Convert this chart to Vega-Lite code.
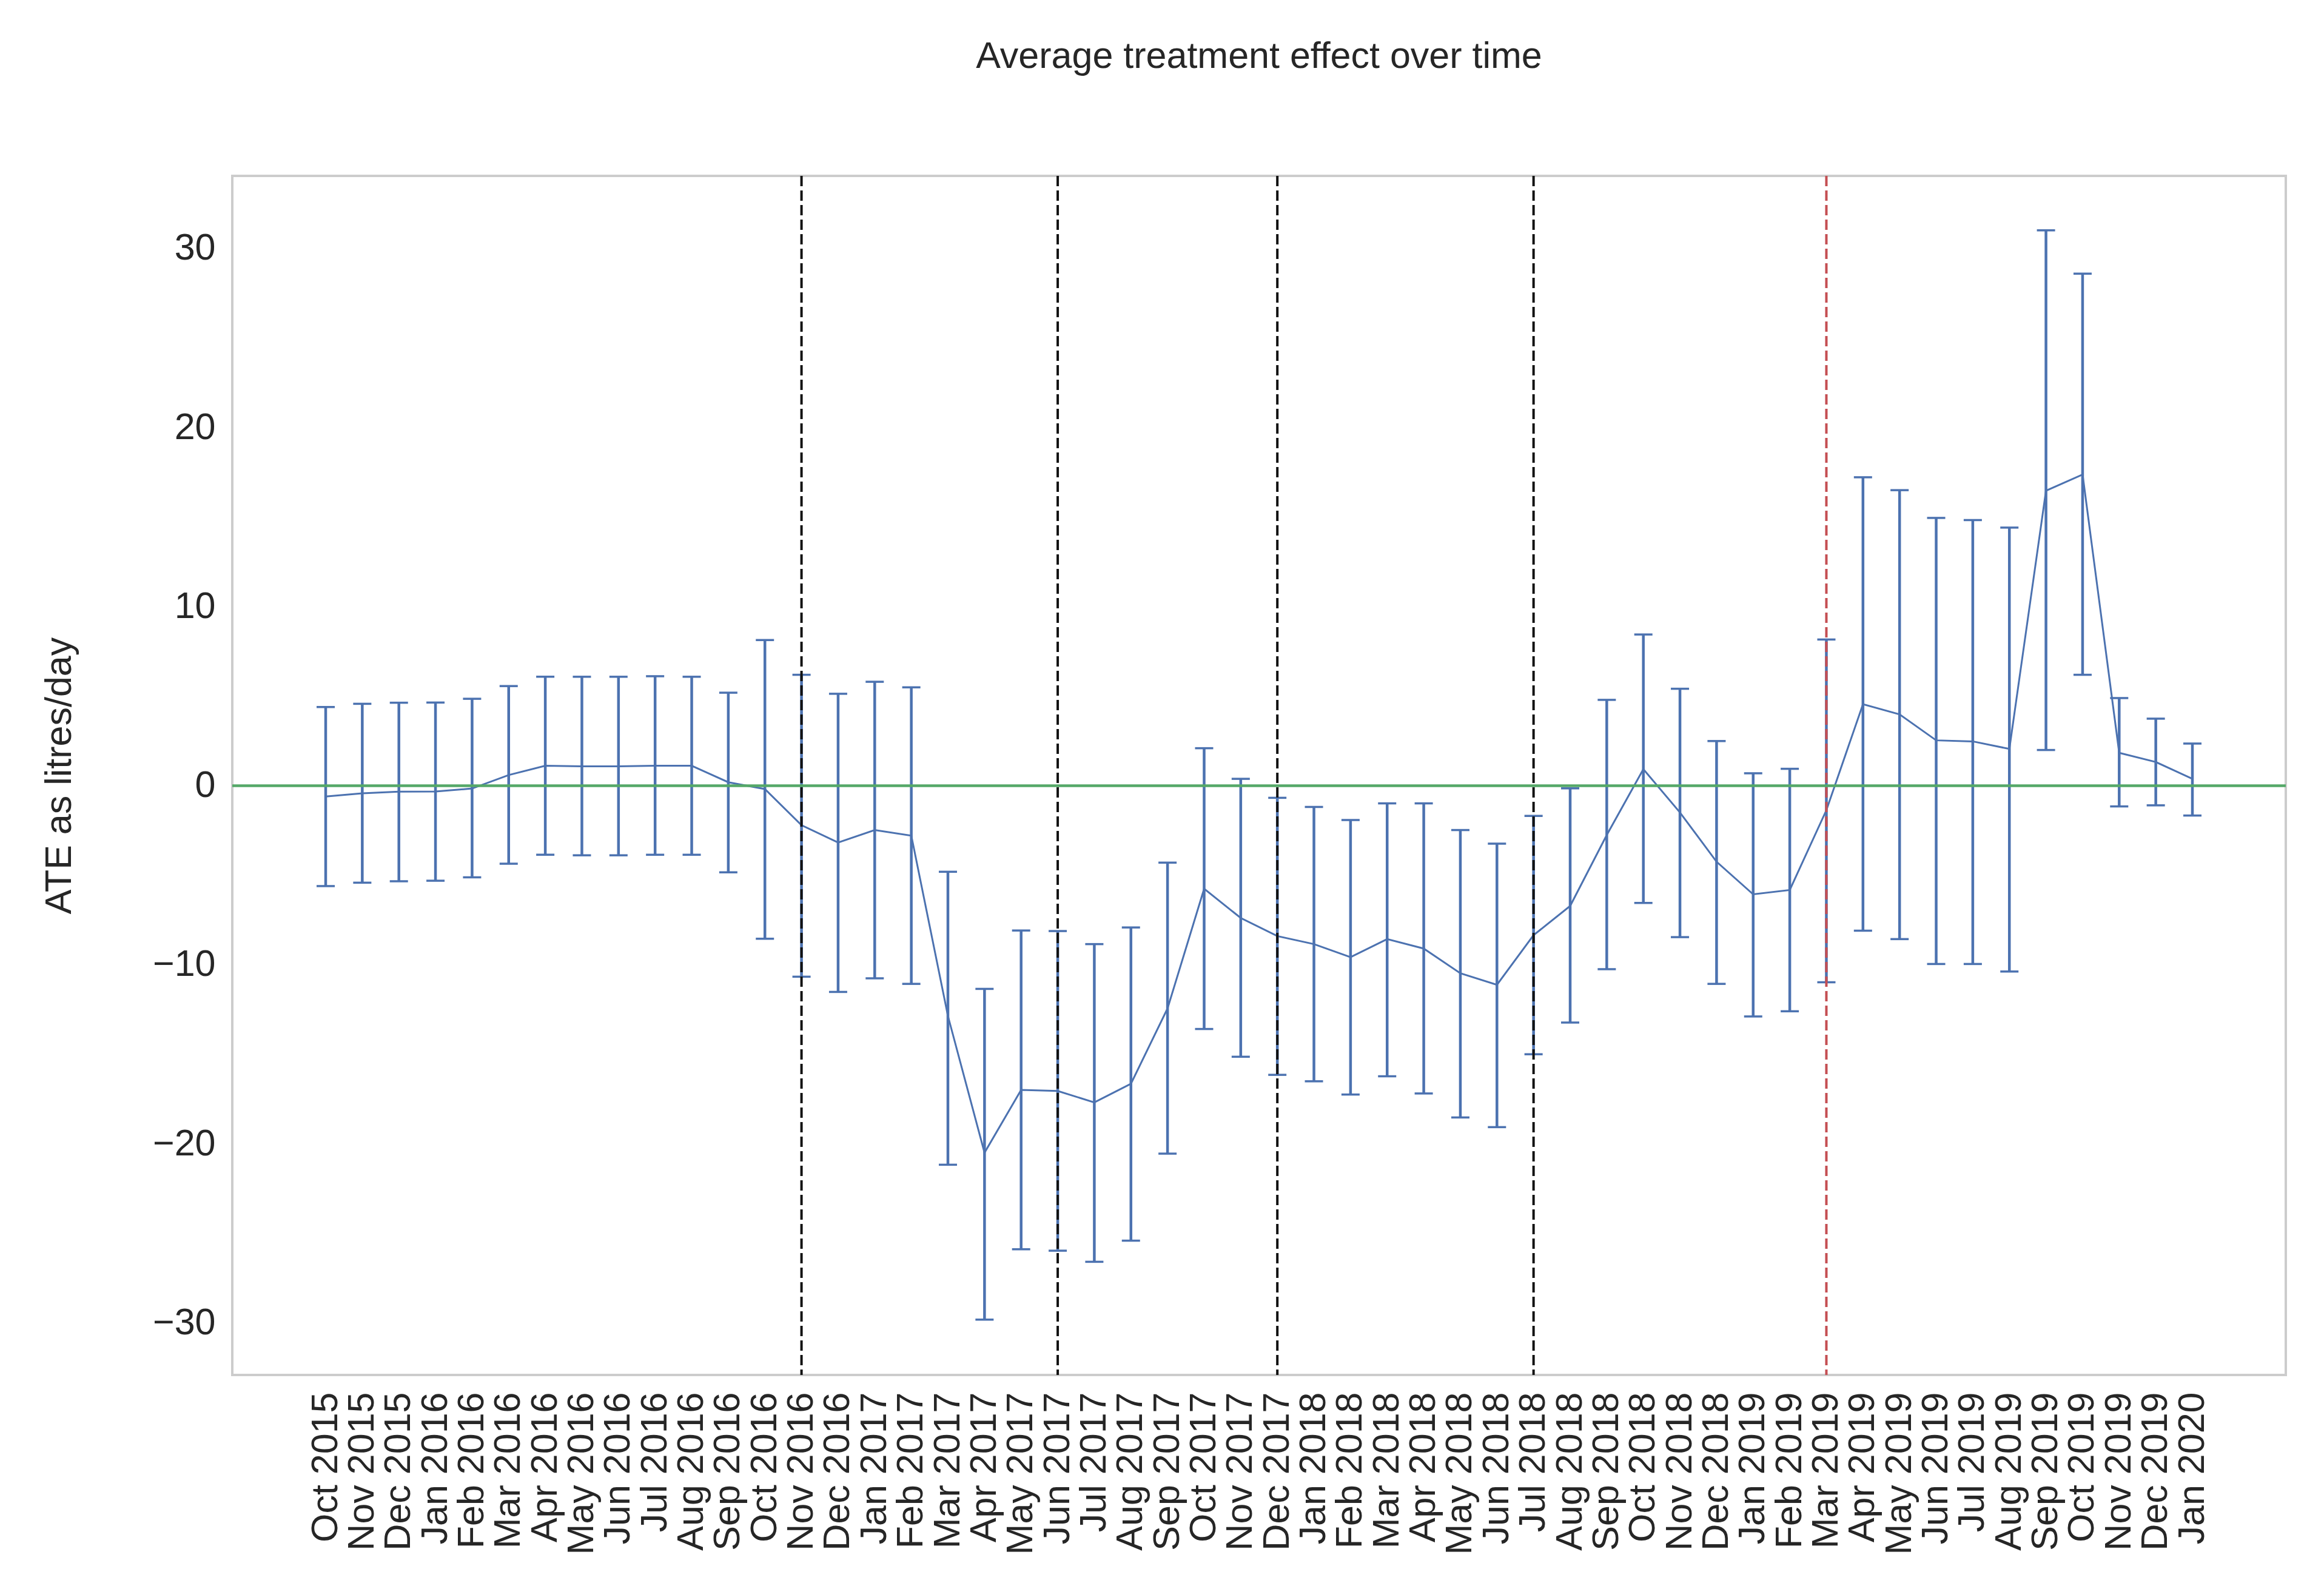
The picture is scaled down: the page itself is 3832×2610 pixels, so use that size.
{
  "$schema": "https://vega.github.io/schema/vega-lite/v6.json",
  "width": 3386,
  "height": 1977,
  "autosize": {"type": "none"},
  "padding": {"left": 383, "top": 290, "right": 63, "bottom": 343},
  "background": "white",
  "title": {"text": "Average treatment effect over time", "fontSize": 61, "font": "Liberation Sans", "fontWeight": "normal", "color": "#262626", "offset": 163, "anchor": "middle"},
  "config": {
    "view": {"stroke": "#cccccc", "strokeWidth": 4},
    "font": "Liberation Sans",
    "axis": {"labelFont": "Liberation Sans", "titleFont": "Liberation Sans", "labelColor": "#262626", "titleColor": "#262626", "grid": false, "ticks": false, "domain": false}
  },
  "datasets": {
    "ate": [
      {"month": "Oct 2015", "ate": -0.60, "lo": -5.60, "hi": 4.40},
      {"month": "Nov 2015", "ate": -0.42, "lo": -5.41, "hi": 4.58},
      {"month": "Dec 2015", "ate": -0.33, "lo": -5.33, "hi": 4.64},
      {"month": "Jan 2016", "ate": -0.32, "lo": -5.30, "hi": 4.65},
      {"month": "Feb 2016", "ate": -0.15, "lo": -5.11, "hi": 4.86},
      {"month": "Mar 2016", "ate": 0.60, "lo": -4.35, "hi": 5.57},
      {"month": "Apr 2016", "ate": 1.12, "lo": -3.85, "hi": 6.09},
      {"month": "May 2016", "ate": 1.09, "lo": -3.88, "hi": 6.09},
      {"month": "Jun 2016", "ate": 1.09, "lo": -3.88, "hi": 6.09},
      {"month": "Jul 2016", "ate": 1.12, "lo": -3.85, "hi": 6.12},
      {"month": "Aug 2016", "ate": 1.12, "lo": -3.85, "hi": 6.09},
      {"month": "Sep 2016", "ate": 0.20, "lo": -4.83, "hi": 5.20},
      {"month": "Oct 2016", "ate": -0.18, "lo": -8.54, "hi": 8.14},
      {"month": "Nov 2016", "ate": -2.20, "lo": -10.66, "hi": 6.20},
      {"month": "Dec 2016", "ate": -3.17, "lo": -11.51, "hi": 5.14},
      {"month": "Jan 2017", "ate": -2.47, "lo": -10.75, "hi": 5.81},
      {"month": "Feb 2017", "ate": -2.78, "lo": -11.06, "hi": 5.50},
      {"month": "Mar 2017", "ate": -12.85, "lo": -21.16, "hi": -4.80},
      {"month": "Apr 2017", "ate": -20.49, "lo": -29.81, "hi": -11.34},
      {"month": "May 2017", "ate": -16.98, "lo": -25.88, "hi": -8.08},
      {"month": "Jun 2017", "ate": -17.04, "lo": -25.96, "hi": -8.11},
      {"month": "Jul 2017", "ate": -17.68, "lo": -26.58, "hi": -8.84},
      {"month": "Aug 2017", "ate": -16.64, "lo": -25.40, "hi": -7.91},
      {"month": "Sep 2017", "ate": -12.43, "lo": -20.54, "hi": -4.29},
      {"month": "Oct 2017", "ate": -5.75, "lo": -13.58, "hi": 2.10},
      {"month": "Nov 2017", "ate": -7.38, "lo": -15.13, "hi": 0.39},
      {"month": "Dec 2017", "ate": -8.39, "lo": -16.14, "hi": -0.67},
      {"month": "Jan 2018", "ate": -8.84, "lo": -16.50, "hi": -1.18},
      {"month": "Feb 2018", "ate": -9.57, "lo": -17.24, "hi": -1.91},
      {"month": "Mar 2018", "ate": -8.56, "lo": -16.22, "hi": -0.98},
      {"month": "Apr 2018", "ate": -9.09, "lo": -17.18, "hi": -0.98},
      {"month": "May 2018", "ate": -10.47, "lo": -18.52, "hi": -2.47},
      {"month": "Jun 2018", "ate": -11.11, "lo": -19.06, "hi": -3.23},
      {"month": "Jul 2018", "ate": -8.34, "lo": -14.99, "hi": -1.68},
      {"month": "Aug 2018", "ate": -6.71, "lo": -13.22, "hi": -0.14},
      {"month": "Sep 2018", "ate": -2.75, "lo": -10.24, "hi": 4.80},
      {"month": "Oct 2018", "ate": 0.93, "lo": -6.54, "hi": 8.45},
      {"month": "Nov 2018", "ate": -1.49, "lo": -8.45, "hi": 5.42},
      {"month": "Dec 2018", "ate": -4.24, "lo": -11.06, "hi": 2.50},
      {"month": "Jan 2019", "ate": -6.06, "lo": -12.88, "hi": 0.70},
      {"month": "Feb 2019", "ate": -5.82, "lo": -12.59, "hi": 0.95},
      {"month": "Mar 2019", "ate": -1.36, "lo": -10.97, "hi": 8.17},
      {"month": "Apr 2019", "ate": 4.56, "lo": -8.09, "hi": 17.23},
      {"month": "May 2019", "ate": 3.99, "lo": -8.56, "hi": 16.51},
      {"month": "Jun 2019", "ate": 2.54, "lo": -9.95, "hi": 14.96},
      {"month": "Jul 2019", "ate": 2.48, "lo": -9.95, "hi": 14.84},
      {"month": "Aug 2019", "ate": 2.06, "lo": -10.37, "hi": 14.42},
      {"month": "Sep 2019", "ate": 16.48, "lo": 2.00, "hi": 31.02},
      {"month": "Oct 2019", "ate": 17.38, "lo": 6.20, "hi": 28.60},
      {"month": "Nov 2019", "ate": 1.84, "lo": -1.15, "hi": 4.90},
      {"month": "Dec 2019", "ate": 1.33, "lo": -1.09, "hi": 3.75},
      {"month": "Jan 2020", "ate": 0.39, "lo": -1.66, "hi": 2.36}
    ],
    "events": [
      {"month": "Nov 2016", "kind": "event"},
      {"month": "Jun 2017", "kind": "event"},
      {"month": "Dec 2017", "kind": "event"},
      {"month": "Jul 2018", "kind": "event"},
      {"month": "Mar 2019", "kind": "cutoff"}
    ]
  },
  "encoding": {
    "x": {
      "field": "month",
      "type": "ordinal",
      "sort": null,
      "scale": {
        "type": "point",
        "padding": 0,
        "range": [154, 3232],
        "domain": ["Oct 2015","Nov 2015","Dec 2015","Jan 2016","Feb 2016","Mar 2016","Apr 2016","May 2016","Jun 2016","Jul 2016","Aug 2016","Sep 2016","Oct 2016","Nov 2016","Dec 2016","Jan 2017","Feb 2017","Mar 2017","Apr 2017","May 2017","Jun 2017","Jul 2017","Aug 2017","Sep 2017","Oct 2017","Nov 2017","Dec 2017","Jan 2018","Feb 2018","Mar 2018","Apr 2018","May 2018","Jun 2018","Jul 2018","Aug 2018","Sep 2018","Oct 2018","Nov 2018","Dec 2018","Jan 2019","Feb 2019","Mar 2019","Apr 2019","May 2019","Jun 2019","Jul 2019","Aug 2019","Sep 2019","Oct 2019","Nov 2019","Dec 2019","Jan 2020"]
      },
      "axis": {"title": null, "labelAngle": -90, "labelFontSize": 61, "labelPadding": 28, "labelOverlap": false, "labelLimit": 0}
    }
  },
  "layer": [
    {
      "data": {"name": "ate"},
      "mark": {"type": "rule", "color": "#4c72b0", "strokeWidth": 4.5},
      "encoding": {
        "y": {
          "field": "lo",
          "type": "quantitative",
          "scale": {"domain": [-32.9, 34.06], "nice": false, "zero": false},
          "axis": {"title": "ATE as litres/day", "titleFontSize": 61, "titleFontWeight": "normal", "titlePadding": 122, "labelFontSize": 61, "labelPadding": 28, "values": [-30, -20, -10, 0, 10, 20, 30], "labelExpr": "replace(datum.label, '-', '−')"}
        },
        "y2": {"field": "hi"}
      }
    },
    {
      "data": {"name": "ate"},
      "mark": {"type": "tick", "color": "#4c72b0", "size": 30, "thickness": 3.5, "opacity": 1, "orient": "horizontal"},
      "encoding": {"y": {"field": "lo", "type": "quantitative"}}
    },
    {
      "data": {"name": "ate"},
      "mark": {"type": "tick", "color": "#4c72b0", "size": 30, "thickness": 3.5, "opacity": 1, "orient": "horizontal"},
      "encoding": {"y": {"field": "hi", "type": "quantitative"}}
    },
    {
      "data": {"name": "ate"},
      "mark": {"type": "line", "color": "#4c72b0", "strokeWidth": 3},
      "encoding": {"y": {"field": "ate", "type": "quantitative"}}
    },
    {
      "data": {"name": "events"},
      "mark": {"type": "rule", "strokeWidth": 4, "strokeDash": [17, 7]},
      "encoding": {
        "color": {"field": "kind", "type": "nominal", "scale": {"domain": ["event", "cutoff"], "range": ["#111111", "#c44e52"]}, "legend": null}
      }
    },
    {
      "data": {"values": [{}]},
      "mark": {"type": "rule", "color": "#55a868", "strokeWidth": 4.5},
      "encoding": {"y": {"datum": 0}, "x": null}
    }
  ]
}
